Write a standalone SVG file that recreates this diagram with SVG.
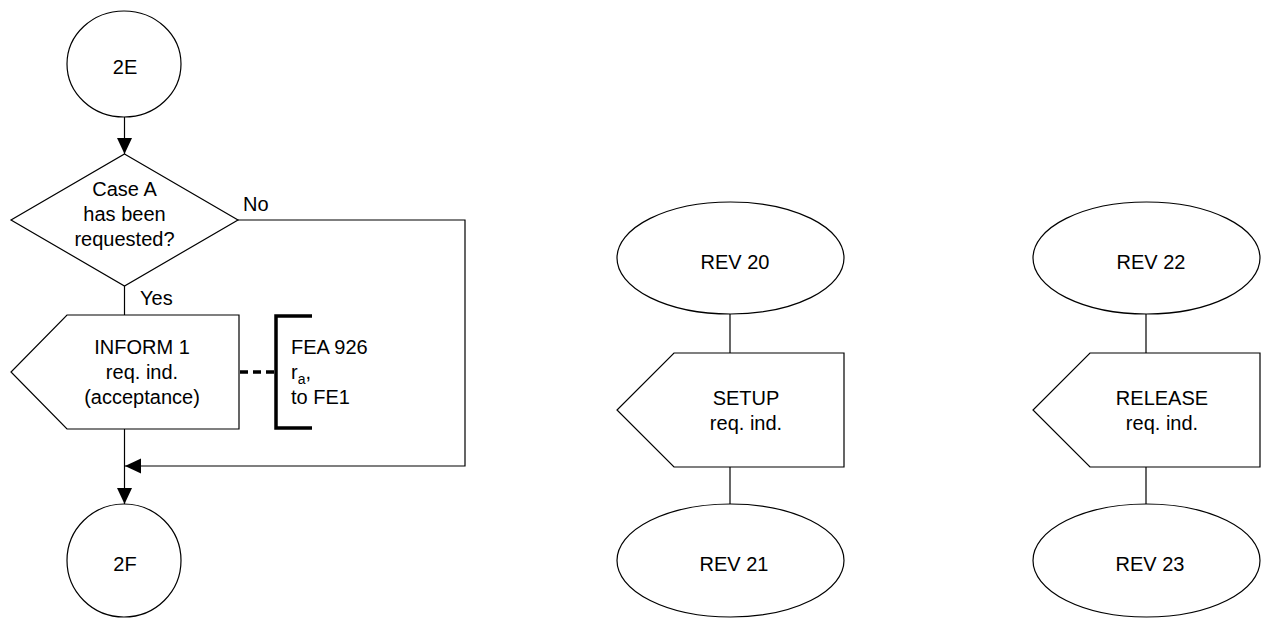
<svg xmlns="http://www.w3.org/2000/svg" width="1265" height="619" viewBox="0 0 1265 619">
<style>
.s{fill:#fff;stroke:#000;stroke-width:1.2}
.l{fill:none;stroke:#000;stroke-width:1.2}
text{font-family:"Liberation Sans",Arial,sans-serif;font-size:20px;fill:#000}
.c{text-anchor:middle}
</style>
<defs>
<marker id="ah" viewBox="0 0 16 16" refX="16" refY="8" markerWidth="16" markerHeight="16" markerUnits="userSpaceOnUse" orient="auto">
<path d="M0,0.5 L16,8 L0,15.5 Z" fill="#000"/>
</marker>
</defs>
<rect width="1265" height="619" fill="#fff"/>
<g id="connectors">
<line class="l" x1="124.5" y1="117" x2="124.5" y2="154" marker-end="url(#ah)"/>
<line class="l" x1="124.5" y1="286" x2="124.5" y2="315"/>
<polyline class="l" points="238,220 465,220 465,466 125,466" marker-end="url(#ah)"/>
<line class="l" x1="124.5" y1="429" x2="124.5" y2="504" marker-end="url(#ah)"/>
<line x1="240" y1="372" x2="274" y2="372" stroke="#000" stroke-width="3.5" stroke-dasharray="8,5"/>
<line class="l" x1="730" y1="314" x2="730" y2="353"/>
<line class="l" x1="730" y1="467" x2="730" y2="504"/>
<line class="l" x1="1146" y1="314" x2="1146" y2="353"/>
<line class="l" x1="1146" y1="467" x2="1146" y2="504"/>
</g>
<g id="n2E">
<ellipse class="s" cx="124" cy="64" rx="57" ry="53"/>
<text class="c" x="125" y="74">2E</text>
</g>
<g id="decision">
<polygon class="s" points="124.5,154 238,220 124.5,286 11,220"/>
<text class="c" x="124.5" y="196">Case A</text>
<text class="c" x="124.5" y="221">has been</text>
<text class="c" x="124.5" y="246">requested?</text>
</g>
<g id="labels">
<text x="243" y="211">No</text>
<text x="140" y="305">Yes</text>
</g>
<g id="inform">
<polygon class="s" points="67,315 239,315 239,429 67,429 11,372"/>
<text class="c" x="142" y="354">INFORM 1</text>
<text class="c" x="142" y="379">req. ind.</text>
<text class="c" x="142" y="404">(acceptance)</text>
</g>
<g id="comment">
<polyline fill="none" stroke="#000" stroke-width="3.5" points="312,316 276,316 276,428 312,428"/>
<text x="291" y="354">FEA 926</text>
<text x="291" y="379">r<tspan font-size="14" dy="5">a</tspan><tspan dy="-5">,</tspan></text>
<text x="291" y="404">to FE1</text>
</g>
<g id="n2F">
<ellipse class="s" cx="124" cy="560.5" rx="57" ry="56.5"/>
<text class="c" x="125" y="570.5">2F</text>
</g>
<g id="rev20">
<ellipse class="s" cx="730.5" cy="258" rx="113.5" ry="56"/>
<text class="c" x="735" y="269">REV 20</text>
</g>
<g id="setup">
<polygon class="s" points="674,353 844,353 844,467 674,467 617,410"/>
<text class="c" x="746" y="405">SETUP</text>
<text class="c" x="746" y="430">req. ind.</text>
</g>
<g id="rev21">
<ellipse class="s" cx="730.5" cy="560.5" rx="113.5" ry="56.5"/>
<text class="c" x="734" y="570.5">REV 21</text>
</g>
<g id="rev22">
<ellipse class="s" cx="1146.5" cy="258" rx="113.5" ry="56"/>
<text class="c" x="1151" y="269">REV 22</text>
</g>
<g id="release">
<polygon class="s" points="1090,353 1260,353 1260,467 1090,467 1033,410"/>
<text class="c" x="1162" y="405">RELEASE</text>
<text class="c" x="1162" y="430">req. ind.</text>
</g>
<g id="rev23">
<ellipse class="s" cx="1146.5" cy="560.5" rx="113.5" ry="56.5"/>
<text class="c" x="1150" y="570.5">REV 23</text>
</g>
</svg>
